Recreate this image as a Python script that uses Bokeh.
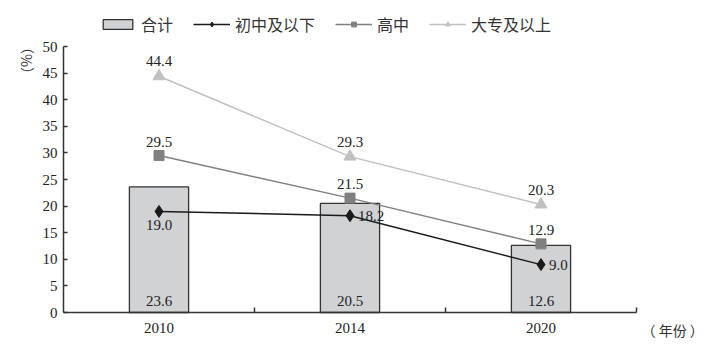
import math
from bokeh.plotting import figure
from bokeh.models import (ColumnDataSource, FixedTicker, Legend, LegendItem, Label, Range1d)
from bokeh.core.properties import value
from bokeh.embed import file_html
from bokeh.resources import INLINE

years = ["2010", "2014", "2020"]
total = [23.6, 20.5, 12.6]
junior = [19.0, 18.2, 9.0]
senior = [29.5, 21.5, 12.9]
college = [44.4, 29.3, 20.3]
y_ticks = [0, 5, 10, 15, 20, 25, 30, 35, 40, 45, 50]

SERIF = "Liberation Serif"
CJK = "Noto Sans CJK SC"

W, H = 718, 354
# plot box in pixels: left, right, top, bottom
PL, PR, PT, PB = 63, 636, 46, 312
n = len(years)
ymax = 50
sx = (PR - PL) / n
sy = (PB - PT) / ymax

xs = list(range(n))
src = ColumnDataSource(dict(
    x=xs, total=total, junior=junior, senior=senior, college=college,
    total_t=[f"{v:.1f}" for v in total],
    junior_t=[f"{v:.1f}" for v in junior],
    senior_t=[f"{v:.1f}" for v in senior],
    college_t=[f"{v:.1f}" for v in college],
))

p = figure(width=W, height=H, output_backend="svg", toolbar_location=None,
           x_range=Range1d(-0.5 - PL / sx, n - 0.5 + (W - PR) / sx),
           y_range=Range1d(-(H - PB) / sy, ymax + PT / sy),
           min_border=0)
p.outline_line_color = None
p.grid.visible = False
p.background_fill_color = "white"
p.border_fill_color = "white"

bar = p.vbar(x="x", top="total", width=0.31, source=src, fill_color="#d1d2d4",
             line_color="#333333", line_width=1.3)
l1 = p.line("x", "junior", source=src, line_color="#1a1a1a", line_width=1.5)
m1 = p.scatter("x", "junior", source=src, marker="diamond", size=12,
               fill_color="#1a1a1a", line_color="#1a1a1a")
l2 = p.line("x", "senior", source=src, line_color="#808080", line_width=1.5)
m2 = p.scatter("x", "senior", source=src, marker="square", size=10,
               fill_color="#808080", line_color="#808080")
l3 = p.line("x", "college", source=src, line_color="#c0c0c0", line_width=1.5)
m3 = p.scatter("x", "college", source=src, marker="triangle", size=12,
               fill_color="#c0c0c0", line_color="#c0c0c0")

lbl = dict(text_font=value(SERIF), text_font_size="15px", text_color="#222222")
p.text("x", 0, text="total_t", source=src, text_align="center", text_baseline="middle",
       y_offset=-12, **lbl)
p.text("x", "college", text="college_t", source=src, text_align="center",
       text_baseline="middle", y_offset=-15, **lbl)
p.text("x", "senior", text="senior_t", source=src, text_align="center",
       text_baseline="middle", y_offset=-14, **lbl)
src_j0 = ColumnDataSource(dict(x=xs[:1], y=junior[:1], t=[f"{v:.1f}" for v in junior[:1]]))
src_j1 = ColumnDataSource(dict(x=xs[1:], y=junior[1:], t=[f"{v:.1f}" for v in junior[1:]]))
p.text("x", "y", text="t", source=src_j0, text_align="center", text_baseline="middle",
       y_offset=14, **lbl)
p.text("x", "y", text="t", source=src_j1, text_align="left", text_baseline="middle",
       x_offset=8, **lbl)

# axes (fixed inside the frame)
xa = p.xaxis[0]
xa.fixed_location = 0
xa.bounds = (-0.5, n - 0.5)
xa.ticker = FixedTicker(ticks=xs, minor_ticks=[i + 0.5 for i in xs])
xa.major_label_overrides = {i: y for i, y in enumerate(years)}
xa.major_tick_in = 0
xa.major_tick_out = 0
xa.minor_tick_in = 5
xa.minor_tick_out = 0
xa.major_label_standoff = 10
xa.major_label_text_font = SERIF
xa.major_label_text_font_size = "15px"
xa.major_label_text_color = "#222222"
xa.axis_line_color = "#333333"
xa.axis_line_width = 1.5
xa.minor_tick_line_color = "#333333"
xa.minor_tick_line_width = 1.5

ya = p.yaxis[0]
ya.fixed_location = -0.5
ya.bounds = (0, ymax)
ya.ticker = FixedTicker(ticks=y_ticks)
ya.minor_tick_line_color = None
ya.major_tick_in = 4
ya.major_tick_out = 0
ya.major_label_standoff = 6
ya.major_label_text_font = SERIF
ya.major_label_text_font_size = "15px"
ya.major_label_text_color = "#222222"
ya.axis_line_color = "#333333"
ya.axis_line_width = 1.5
ya.major_tick_line_color = "#333333"
ya.major_tick_line_width = 1.5

p.add_layout(Label(x=-0.5, y=ymax, x_offset=-38, y_offset=-14, angle=math.pi / 2,
                   text="（%）", text_font=CJK, text_font_size="14px",
                   text_align="center", text_baseline="middle", text_color="#333333"))
p.add_layout(Label(x=n - 0.5, y=0, x_offset=5, y_offset=-17,
                   text="（ 年份 ）", text_font=CJK, text_font_size="14px",
                   text_align="left", text_baseline="middle", text_color="#333333"))

legend = Legend(items=[
    LegendItem(label="合计", renderers=[bar]),
    LegendItem(label="初中及以下", renderers=[l1, m1]),
    LegendItem(label="高中", renderers=[l2, m2]),
    LegendItem(label="大专及以上", renderers=[l3, m3]),
], orientation="horizontal", location=(99, H - 36), glyph_width=37, glyph_height=12,
    label_text_font=CJK, label_text_font_size="16px", label_text_color="#333333",
    spacing=20, padding=0, margin=0, border_line_color=None, background_fill_alpha=0,
    label_standoff=5)
p.add_layout(legend)

open("out.html", "w").write(file_html(p, INLINE))
